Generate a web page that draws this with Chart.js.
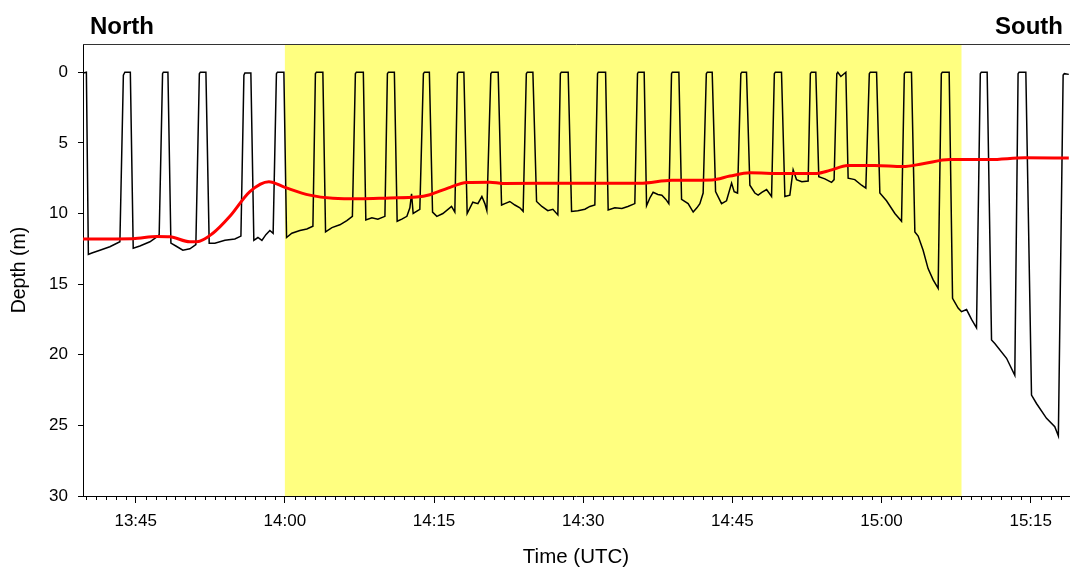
<!DOCTYPE html>
<html>
<head>
<meta charset="utf-8">
<script src="https://cdn.jsdelivr.net/npm/chart.js@4.4.1/dist/chart.umd.min.js"></script>
<style>
  html, body { margin: 0; padding: 0; background: #ffffff; }
  #wrap { width: 1070px; height: 570px; }
</style>
</head>
<body>
<div id="wrap"><canvas id="c" width="1070" height="570"></canvas></div>
<script>
// Times are minutes after 13:00 UTC, depths in metres (positive down).

// Yo-yo dive profile
const diveTime = [
  39.72, 40.04, 40.24, 40.59, 41.40, 42.40, 43.41, 43.76, 43.91, 44.46,
  44.75, 45.42, 46.43, 47.23, 47.36, 47.70, 47.78, 48.24,
  48.54, 49.04, 49.74, 50.45, 51.05, 51.40, 51.50, 52.06,
  52.39, 52.96, 53.97, 54.97, 55.58, 55.88, 55.98, 56.58,
  56.88, 57.29, 57.69, 58.09, 58.49, 58.82, 59.15, 59.25, 59.90,
  60.17, 60.70, 61.51, 62.21, 62.82, 63.07, 63.17, 63.82,
  64.09, 64.73, 65.53, 66.23, 66.79, 67.09, 67.19, 67.89,
  68.14, 68.75, 69.35, 70.06, 70.31, 70.41, 71.01,
  71.29, 71.76, 72.27, 72.57, 72.74, 72.90, 73.57, 73.93, 74.03, 74.53,
  74.85, 75.28, 75.89, 76.76, 77.09, 77.35, 77.45, 78.00,
  78.33, 78.90, 79.41, 79.81, 80.11, 80.31, 80.71, 80.81, 81.45,
  81.79, 82.12, 82.62, 83.13, 83.63, 83.96, 84.28, 84.38, 84.94,
  85.31, 85.84, 86.44, 86.95, 87.45, 87.70, 87.80, 88.49,
  88.83, 89.46, 90.17, 90.67, 91.17, 91.44, 91.52, 92.25,
  92.51, 93.18, 93.89, 94.49, 95.19, 95.46, 95.54, 96.13,
  96.37, 96.70, 97.03, 97.51, 97.91, 98.31, 98.61, 98.88, 98.96, 99.62,
  99.89, 100.55, 101.06, 101.43, 101.73, 102.06, 102.38, 102.48, 102.97,
  103.31, 103.91, 104.41, 104.92, 105.18, 105.52, 105.85, 105.95, 106.42,
  106.76, 107.26, 107.59, 107.96, 108.44, 108.94, 109.22, 109.32, 109.94,
  110.28, 110.78, 111.11, 111.45, 111.98, 112.62, 112.84, 112.94, 113.39,
  113.69, 114.30, 114.97, 115.23, 115.50, 115.60, 115.91, 116.41,
  116.64, 117.31, 117.99, 118.42, 118.77, 118.87, 119.50,
  119.83, 120.50, 121.34, 122.01, 122.29, 122.39, 123.01,
  123.35, 123.68, 124.18, 124.68, 125.19, 125.69, 126.01, 126.11, 126.80,
  127.14, 127.70, 128.04, 128.55, 129.05, 129.55, 129.93, 130.03, 130.62,
  131.06, 131.39, 132.57, 133.40, 133.73, 133.83, 134.51,
  135.08, 135.58, 136.59, 137.42, 137.78, 138.26, 138.38, 138.83
];
const diveDepth = [
  0.05, 0.0, 12.9, 12.8, 12.6, 12.35, 12.0, 0.2, 0.0, 0.0,
  12.45, 12.3, 12.0, 11.6, 11.5, 0.1, 0.0, 0.0,
  12.1, 12.3, 12.6, 12.5, 12.2, 0.1, 0.0, 0.0,
  12.1, 12.1, 11.9, 11.8, 11.6, 0.2, 0.05, 0.05,
  11.9, 11.7, 11.9, 11.5, 11.2, 11.4, 0.1, 0.0, 0.0,
  11.7, 11.4, 11.2, 11.1, 10.9, 0.1, 0.0, 0.0,
  11.3, 11.0, 10.8, 10.5, 10.2, 0.1, 0.0, 0.0,
  10.45, 10.3, 10.4, 10.2, 0.1, 0.0, 0.0,
  10.55, 10.4, 10.2, 9.6, 8.6, 10.0, 9.7, 0.1, 0.0, 0.0,
  9.9, 10.2, 10.0, 9.5, 9.9, 0.1, 0.0, 0.0,
  10.0, 9.2, 9.3, 8.8, 9.3, 9.8, 0.1, 0.0, 0.0,
  9.4, 9.3, 9.15, 9.4, 9.6, 9.85, 0.1, 0.0, 0.0,
  9.15, 9.5, 9.8, 9.7, 10.1, 0.1, 0.0, 0.0,
  9.85, 9.8, 9.7, 9.5, 9.4, 0.1, 0.0, 0.0,
  9.75, 9.6, 9.65, 9.5, 9.3, 0.1, 0.0, 0.0,
  9.45, 8.9, 8.5, 8.65, 8.7, 9.0, 9.3, 0.1, 0.0, 0.0,
  9.0, 9.3, 9.9, 9.6, 9.3, 8.55, 0.1, 0.0, 0.0,
  8.45, 9.3, 9.1, 7.85, 8.45, 8.55, 0.1, 0.0, 0.0,
  8.0, 8.55, 8.7, 8.5, 8.3, 8.8, 0.1, 0.0, 0.0,
  8.8, 8.7, 6.9, 7.6, 7.75, 7.7, 0.1, 0.0, 0.0,
  7.4, 7.55, 7.8, 7.6, 0.1, 0.0, 0.3, 0.0,
  7.5, 7.6, 8.0, 8.2, 0.1, 0.0, 0.0,
  8.55, 9.1, 10.0, 10.55, 0.1, 0.0, 0.0,
  11.3, 11.6, 12.6, 13.9, 14.7, 15.3, 0.1, 0.0, 0.0,
  16.0, 16.7, 16.95, 16.8, 17.5, 18.1, 0.1, 0.0, 0.0,
  18.95, 19.2, 20.25, 21.45, 0.1, 0.0, 0.0,
  22.85, 23.45, 24.5, 25.1, 25.75, 0.2, 0.1, 0.15
];

// Smoothed reference depth (red)
const refTime = [
  39.69, 44.72, 47.13, 48.44, 50.45, 51.15, 52.76, 54.47, 56.48, 58.39,
  60.00, 62.51, 64.83, 67.54, 70.56, 73.24, 74.58, 76.39, 78.30, 80.61,
  81.92, 89.16, 95.70, 98.91, 102.94, 104.75, 106.76, 110.07, 113.49, 114.80,
  116.61, 119.32, 122.14, 124.15, 126.87, 130.89, 134.41, 138.83
];
const refDepth = [
  11.8, 11.78, 11.63, 11.65, 12.0, 12.0, 11.4, 10.2, 8.45, 7.75,
  8.15, 8.7, 8.92, 8.96, 8.9, 8.84, 8.67, 8.2, 7.8, 7.78,
  7.87, 7.86, 7.86, 7.65, 7.62, 7.35, 7.12, 7.17, 7.16, 6.95,
  6.6, 6.6, 6.68, 6.48, 6.18, 6.18, 6.06, 6.07
];

// Shaded interval (14:00 - 15:08)
const shadedSpan = [60, 128.04];

// Axis ticks
const xMajorTicks = [45, 60, 75, 90, 105, 120, 135];
const xMinorStep = 1;
const yTicks = [0, 5, 10, 15, 20, 25, 30];
const xRange = [39.7, 138.85];
const yRange = [-2, 30];

const cornerLabels = ['North', 'South'];

const FONT = "'Liberation Sans', Arial, Helvetica, sans-serif";

function clock(m) {
  const h = 13 + Math.floor(m / 60);
  const mm = Math.round(m % 60);
  return h + ':' + String(mm).padStart(2, '0');
}

const decorations = {
  id: 'decorations',
  beforeDraw(chart) {
    const { ctx, chartArea: a, scales: { x } } = chart;
    const x0 = x.getPixelForValue(shadedSpan[0]);
    const x1 = x.getPixelForValue(shadedSpan[1]);
    ctx.save();
    ctx.fillStyle = 'rgb(255,255,128)';
    ctx.fillRect(x0, a.top, x1 - x0, a.bottom - a.top);
    ctx.restore();
  },
  afterDraw(chart) {
    const { ctx, chartArea: a, scales: { x } } = chart;
    ctx.save();
    // minor ticks every minute
    ctx.strokeStyle = '#000';
    ctx.lineWidth = 1;
    ctx.beginPath();
    for (let m = Math.ceil(xRange[0]); m <= xRange[1]; m += xMinorStep) {
      if (xMajorTicks.includes(m)) continue;
      const px = Math.round(x.getPixelForValue(m)) + 0.5;
      ctx.moveTo(px, a.bottom);
      ctx.lineTo(px, a.bottom + 4);
    }
    ctx.stroke();
    // top frame line
    ctx.beginPath();
    ctx.strokeStyle = '#333';
    ctx.moveTo(a.left, a.top + 0.5);
    ctx.lineTo(a.right + 1, a.top + 0.5);
    ctx.stroke();
    // corner labels
    ctx.fillStyle = '#000';
    ctx.font = "bold 24px " + FONT;
    ctx.textBaseline = 'alphabetic';
    ctx.textAlign = 'left';
    ctx.fillText(cornerLabels[0], 90, 33.5);
    ctx.textAlign = 'right';
    ctx.fillText(cornerLabels[1], 1063, 33.5);
    ctx.restore();
  }
};

const ctx = document.getElementById('c').getContext('2d');
new Chart(ctx, {
  type: 'line',
  data: {
    datasets: [
      {
        label: 'Reference depth',
        data: refTime.map((t, i) => ({ x: t, y: refDepth[i] })),
        borderColor: '#ff0000',
        borderWidth: 3,
        pointRadius: 0,
        cubicInterpolationMode: 'monotone',
        fill: false
      },
      {
        label: 'Depth',
        data: diveTime.map((t, i) => ({ x: t, y: diveDepth[i] })),
        borderColor: '#000000',
        borderWidth: 1.5,
        pointRadius: 0,
        tension: 0,
        fill: false
      }
    ]
  },
  options: {
    responsive: false,
    animation: false,
    devicePixelRatio: 1,
    layout: { padding: { top: 44, right: 1, left: 0, bottom: 0 } },
    plugins: { legend: { display: false }, tooltip: { enabled: false } },
    scales: {
      x: {
        type: 'linear',
        min: xRange[0],
        max: xRange[1],
        afterBuildTicks: s => { s.ticks = xMajorTicks.map(v => ({ value: v })); },
        afterFit: s => { s.height = 74; },
        ticks: {
          callback: v => clock(v),
          font: { family: FONT, size: 17 },
          color: '#000',
          padding: 8,
          maxRotation: 0,
          autoSkip: false
        },
        grid: { drawOnChartArea: false, tickLength: 7, tickColor: '#000' },
        border: { color: '#000', width: 1 },
        title: {
          display: true,
          text: 'Time (UTC)',
          font: { family: FONT, size: 20.5 },
          color: '#000',
          padding: { top: 0, bottom: 0 }
        }
      },
      y: {
        reverse: true,
        min: yRange[0],
        max: yRange[1],
        afterBuildTicks: s => { s.ticks = yTicks.map(v => ({ value: v })); },
        afterFit: s => { s.width = 83; },
        ticks: {
          font: { family: FONT, size: 17 },
          color: '#000',
          padding: 10
        },
        grid: { drawOnChartArea: false, tickLength: 5, tickColor: '#000' },
        border: { color: '#000', width: 1 },
        title: {
          display: true,
          text: 'Depth (m)',
          font: { family: FONT, size: 19.5 },
          color: '#000',
          padding: { top: 8, bottom: 0 }
        }
      }
    }
  },
  plugins: [decorations]
});
</script>
</body>
</html>
